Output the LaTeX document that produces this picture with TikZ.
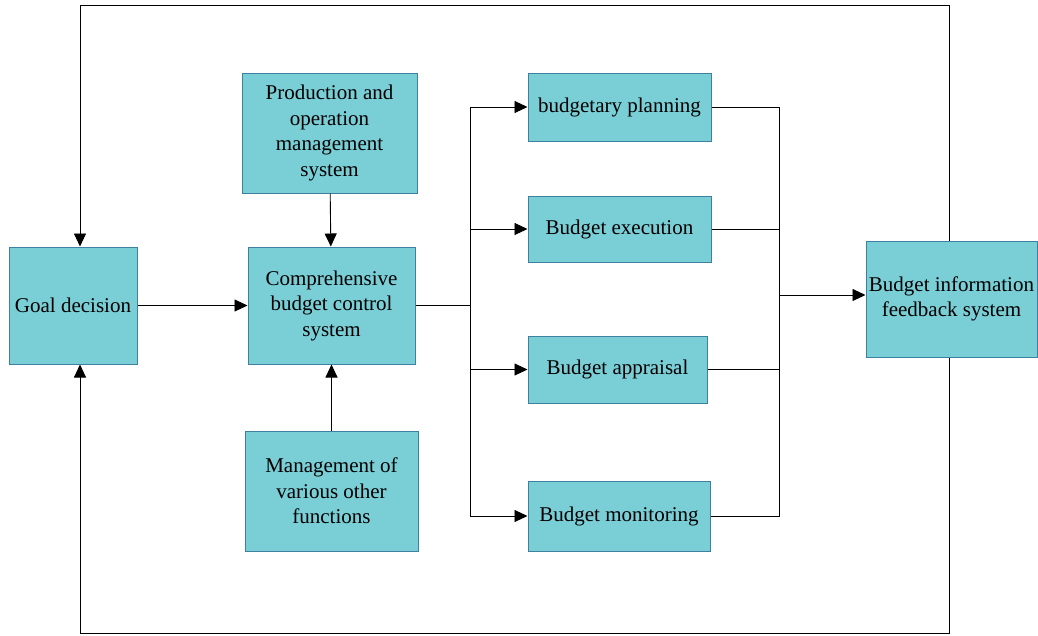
\documentclass[tikz,border=0pt]{standalone}
\usepackage{fontspec}
\setmainfont{Liberation Serif}
\usetikzlibrary{positioning,arrows.meta}

\begin{document}
\begin{tikzpicture}[x=1pt,y=1pt,yscale=-1,xscale=1]
\tikzset{box/.style={draw={rgb,255:red,62;green,128;blue,160},fill={rgb,255:red,122;green,206;blue,214},line width=1pt,inner sep=0pt,align=center,font=\fontsize{21}{25.5}\selectfont},
  arr/.style={-{Triangle[length=13pt,width=12pt]},line width=0.9pt},
  ln/.style={line width=0.9pt}}
\useasboundingbox (0,0) rectangle (1038,635);

% Boxes
\node [box,minimum width=128,minimum height=117] (goal) at (73,305.5) {Goal decision};
\node [box,minimum width=167,minimum height=117] (comp) at (331.5,305.5) {Comprehensive\\budget control\\system};
\node [box,minimum width=175,minimum height=120] (prod) at (329.5,133) {Production and\\operation\\management\\system};
\node [box,minimum width=173,minimum height=120] (mgmt) at (331.5,491) {Management of\\various other\\functions};
\node [box,minimum width=183,minimum height=68] (plan) at (619.5,107) {budgetary planning};
\node [box,minimum width=183,minimum height=66] (exec) at (619.5,229) {Budget execution};
\node [box,minimum width=179,minimum height=67] (appr) at (617.5,369.5) {Budget appraisal};
\node [box,minimum width=182,minimum height=70] (mon) at (619,516) {Budget monitoring};
\node [box,minimum width=171,minimum height=116] (feed) at (951.5,299) {Budget information\\feedback system};

% Points of the lines
\coordinate (split) at (470,305.5);
\coordinate (merge) at (779,295);
\coordinate (tl) at (80,5);
\coordinate (tr) at (949,5);
\coordinate (bl) at (80,633);
\coordinate (br) at (949,633);

% Connectors
\draw [arr] (goal) -- (comp);
\draw [arr] (prod) -- (comp);
\draw [arr] (mgmt) -- (comp);
\draw [ln] (comp.east) -- (split);
\draw [arr] (split) |- (plan.west);
\draw [arr] (split) |- (exec.west);
\draw [arr] (split) |- (appr.west);
\draw [arr] (split) |- (mon.west);
\draw [ln] (plan.east) -| (merge);
\draw [ln] (mon.east) -| (merge);
\draw [ln] (exec.east) -- (exec.east -| merge);
\draw [ln] (appr.east) -- (appr.east -| merge);
\draw [arr] (merge) -- (merge -| feed.west);
\draw [arr] (feed.north -| tr) -- (tr) -- (tl) -- (tl |- goal.north);
\draw [arr] (feed.south -| br) -- (br) -- (bl) -- (bl |- goal.south);

\end{tikzpicture}
\end{document}
